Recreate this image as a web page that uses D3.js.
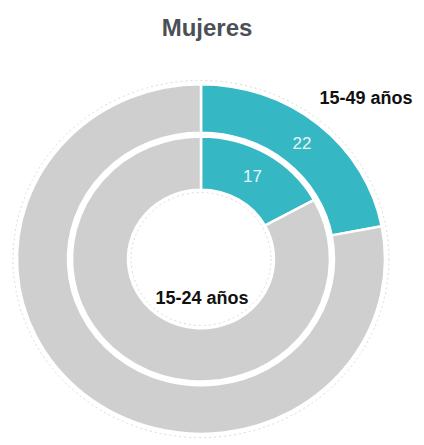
<!DOCTYPE html>
<meta charset="utf-8">
<script src="https://d3js.org/d3.v7.min.js"></script>
<style>
body { margin: 0; background: #fff; }
</style>
<div id="my_dataviz"></div>
<script>

// data: share (%) of each age group, outer ring first
var rings = ["15-49 años", "15-24 años"];
var values = [22, 17];
var title = "Mujeres";

var width = 424, height = 445;
var cx = 201, cy = 259, squash = 0.95;

var svg = d3.select("#my_dataviz")
  .append("svg")
    .attr("width", width)
    .attr("height", height);

// title
svg.append("text")
  .attr("x", 207)
  .attr("y", 36)
  .attr("text-anchor", "middle")
  .style("font-family", "Liberation Sans, Arial, sans-serif")
  .style("font-weight", "bold")
  .style("font-size", "24px")
  .style("fill", "#4b5057")
  .text(title);

var g = svg.append("g")
  .attr("transform", "translate(" + cx + "," + cy + ") scale(1," + squash + ")");

// ring radii (outer ring, inner ring)
var radii = [[133, 184], [73, 129]];

var pie = d3.pie().sort(null).value(function(d) { return d; });
var color = ["#36b8c4", "#d0cfd0"];

// faint dotted guide circles
g.append("circle").attr("r", 188)
  .style("fill", "none").style("stroke", "#d8d8d8").style("stroke-width", 1)
  .style("stroke-dasharray", "2,3");
g.append("circle").attr("r", 70)
  .style("fill", "none").style("stroke", "#d8d8d8").style("stroke-width", 1)
  .style("stroke-dasharray", "2,3");

rings.forEach(function(name, i) {
  var arc = d3.arc().innerRadius(radii[i][0]).outerRadius(radii[i][1]);
  var arcs = pie([values[i], 100 - values[i]]);

  g.selectAll("ring" + i)
    .data(arcs)
    .enter()
    .append("path")
      .attr("d", arc)
      .style("fill", function(d, j) { return color[j]; })
      .style("stroke", "white")
      .style("stroke-width", 2.5);

  // value label on the teal slice
  var c = arc.centroid(arcs[0]);
  svg.append("text")
    .attr("x", cx + c[0])
    .attr("y", cy + c[1] * squash + 6)
    .attr("text-anchor", "middle")
    .style("font-family", "Liberation Sans, Arial, sans-serif")
    .style("font-size", "17px")
    .style("fill", "#e6f6f8")
    .text(values[i]);
});

// ring names
svg.append("text")
  .attr("x", 366)
  .attr("y", 104)
  .attr("text-anchor", "middle")
  .style("font-family", "Liberation Sans, Arial, sans-serif")
  .style("font-weight", "bold")
  .style("font-size", "18px")
  .style("fill", "#111")
  .text(rings[0]);

svg.append("text")
  .attr("x", cx + 1)
  .attr("y", 304)
  .attr("text-anchor", "middle")
  .style("font-family", "Liberation Sans, Arial, sans-serif")
  .style("font-weight", "bold")
  .style("font-size", "18px")
  .style("fill", "#111")
  .text(rings[1]);

</script>
